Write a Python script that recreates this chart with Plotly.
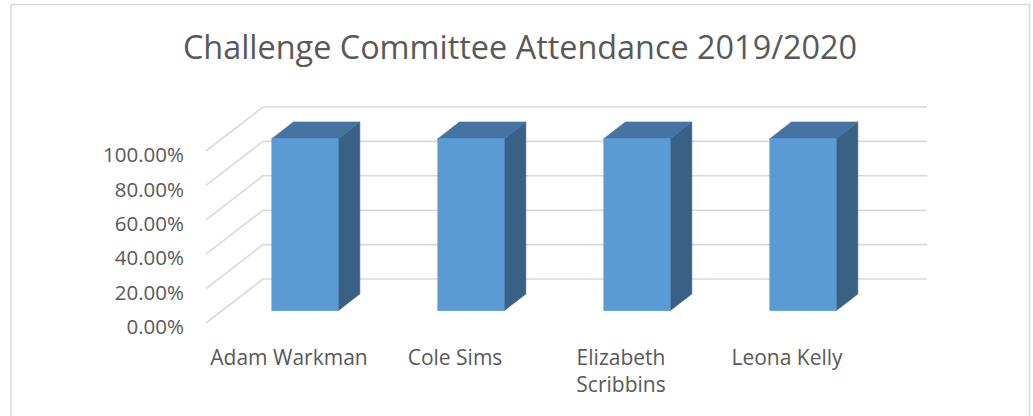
import plotly.graph_objects as go

# ---------------- data ----------------
categories = ["Adam Warkman", "Cole Sims", "Elizabeth Scribbins", "Leona Kelly"]
category_labels = ["Adam Warkman", "Cole Sims", "Elizabeth<br>Scribbins", "Leona Kelly"]
attendance = [1.0, 1.0, 1.0, 1.0]
tick_values = [0.0, 0.2, 0.4, 0.6, 0.8, 1.0]
tick_labels = ["0.00%", "20.00%", "40.00%", "60.00%", "80.00%", "100.00%"]
title_text = "Challenge Committee Attendance 2019/2020"

# ---------------- layout calibration ----------------
W, H = 1033, 416
PX_PER_CAT = 166.0
PX_PER_VAL = 172.0
FRONT_LEFT_PX = 206.0
FRONT_ZERO_PX = 323.0
DEPTH_DX_PX = 57.0
DEPTH_DY_PX = 44.0
PLOT_LEFT_PX = 188.0
PLOT_BOTTOM_PX = 343.0

KX = DEPTH_DX_PX / PX_PER_CAT
KY = DEPTH_DY_PX / PX_PER_VAL
BAR_HALF = 0.2
D0, D1 = 0.28, 0.66

FRONT_COLOR = "#5b9bd5"
TOP_COLOR = "#4574a2"
SIDE_COLOR = "#386185"
GRID_COLOR = "#d9d9d9"
TEXT_COLOR = "#595959"
FONT = "Open Sans"


def proj(c, v, d):
    return c + d * KX, v + d * KY


x_min = -0.5 - (FRONT_LEFT_PX - PLOT_LEFT_PX) / PX_PER_CAT
x_max = x_min + (W - PLOT_LEFT_PX) / PX_PER_CAT
y_max = FRONT_ZERO_PX / PX_PER_VAL
y_min = -(PLOT_BOTTOM_PX - FRONT_ZERO_PX) / PX_PER_VAL

n = len(categories)
fig = go.Figure()

# gridlines: side wall diagonals + back wall horizontals
gx, gy = [], []
for t in tick_values:
    a = proj(-0.5, t, 0.0)
    b = proj(-0.5, t, 1.0)
    c = proj(n - 0.5, t, 1.0)
    gx += [a[0], b[0], c[0], None]
    gy += [a[1], b[1], c[1], None]
fig.add_trace(go.Scatter(x=gx, y=gy, mode="lines",
                         line=dict(color=GRID_COLOR, width=1.6),
                         hoverinfo="skip", showlegend=False))


def poly(pts, color):
    xs = [p[0] for p in pts] + [pts[0][0]]
    ys = [p[1] for p in pts] + [pts[0][1]]
    fig.add_trace(go.Scatter(x=xs, y=ys, mode="lines", fill="toself",
                             fillcolor=color, line=dict(color=color, width=0.6),
                             hoverinfo="skip", showlegend=False))


for i, v in enumerate(attendance):
    l, r = i - BAR_HALF, i + BAR_HALF
    side = [proj(r, 0, D0), proj(r, v, D0), proj(r, v, D1), proj(r, 0, D1)]
    top = [proj(l, v, D0), proj(r, v, D0), proj(r, v, D1), proj(l, v, D1)]
    front = [proj(l, 0, D0), proj(r, 0, D0), proj(r, v, D0), proj(l, v, D0)]
    poly(side, SIDE_COLOR)
    poly(top, TOP_COLOR)
    poly(front, FRONT_COLOR)

fig.update_layout(
    width=W, height=H,
    margin=dict(l=0, r=0, t=0, b=0),
    paper_bgcolor="white", plot_bgcolor="rgba(0,0,0,0)",
    showlegend=False,
    font=dict(family=FONT, color=TEXT_COLOR, size=21),
    title=dict(text=title_text, x=520 / W, xanchor="center",
               y=1 - 48 / H, yanchor="middle",
               font=dict(family=FONT, size=32.4, color=TEXT_COLOR)),
    xaxis=dict(domain=[PLOT_LEFT_PX / W, 1], range=[x_min, x_max],
               tickvals=list(range(n)), ticktext=category_labels,
               showgrid=False, zeroline=False, showline=False, ticks="",
               fixedrange=True, tickfont=dict(size=21, color=TEXT_COLOR)),
    yaxis=dict(domain=[1 - PLOT_BOTTOM_PX / H, 1], range=[y_min, y_max],
               tickvals=tick_values, ticktext=tick_labels,
               showgrid=False, zeroline=False, showline=False, ticks="",
               fixedrange=True, ticklabelshift=4, ticklabelstandoff=3,
               tickfont=dict(size=20.5, color=TEXT_COLOR)),
    shapes=[dict(type="rect", xref="paper", yref="paper",
                 x0=11 / W, x1=1029.5 / W, y0=-0.05, y1=1 - 4.5 / H,
                 line=dict(color=GRID_COLOR, width=1.5), fillcolor="rgba(0,0,0,0)")],
)

fig.write_html("out.html", config={"displayModeBar": False},
               post_script="document.body.style.margin='0';document.body.style.overflow='hidden';")
